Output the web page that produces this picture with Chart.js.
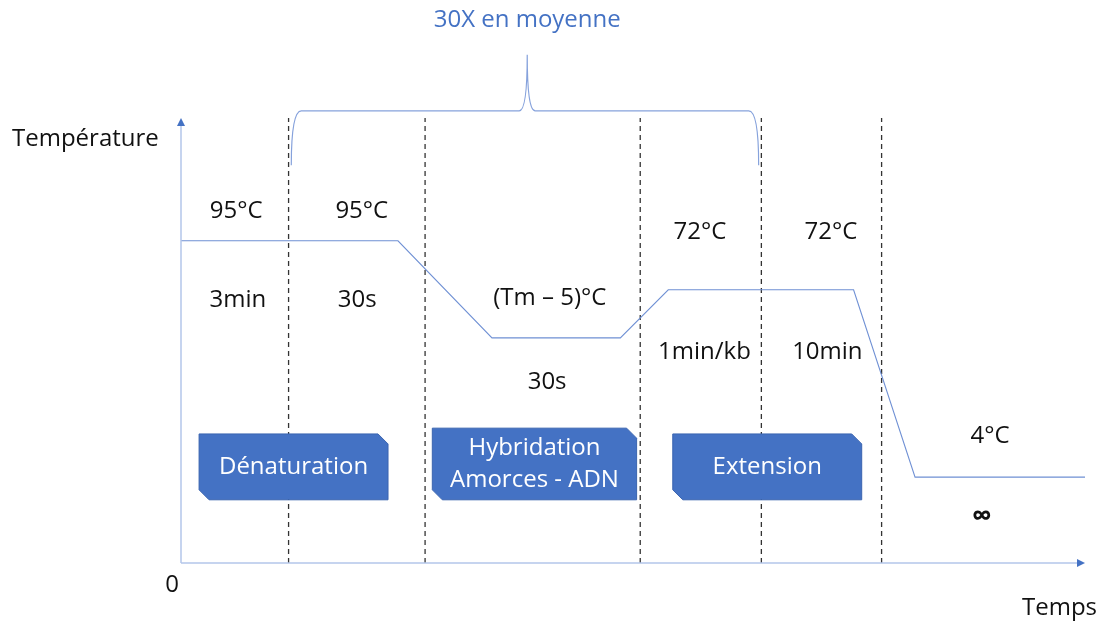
<!DOCTYPE html>
<html><head><meta charset="utf-8">
<script src="https://cdn.jsdelivr.net/npm/chart.js@4/dist/chart.umd.min.js"></script>
<style>html,body{margin:0;padding:0;background:#fff}#c{display:block}</style>
</head><body>
<canvas id="c" width="1102" height="622"></canvas>
<script>
// Temperature profile (schematic levels, 0..100 on the y axis, time 0..100 on x)
const profileTime  = [0, 24.0, 34.4, 48.6, 53.9, 74.4, 81.2, 100];
const profileLevel = [72.4, 72.4, 50.6, 50.6, 61.4, 61.4, 19.3, 19.3];
// Step boundaries (dashed lines)
const stepBounds = [11.9, 27.0, 50.8, 64.2, 77.5];
// Labels
const labelTexts = ['95°C','95°C','3min','30s','(Tm – 5)°C','30s','72°C','72°C','1min/kb','10min','4°C','∞'];
const labelX     = [6.1, 20.0, 6.3, 19.5, 40.8, 40.5, 57.4, 71.9, 57.9, 71.5, 89.5, 88.6];
const labelY     = [79.1, 79.1, 59.1, 59.1, 59.6, 40.7, 74.4, 74.4, 47.4, 47.4, 28.5, 10.3];
// Step boxes
const boxTexts = [['Dénaturation'], ['Hybridation','Amorces - ADN'], ['Extension']];
const boxX0 = [2.0, 27.8, 54.4], boxX1 = [22.9, 50.4, 75.3];
const boxY0 = [29.0, 30.3, 29.0], boxY1 = [14.2, 14.2, 14.2];
// Cycle brace
const braceX = [12.2, 38.3, 63.9];
const braceY = [89.4, 101.6, 114.2];
const braceLabel = '30X en moyenne';
const braceLabelY = 122.0;
const yAxisTitle = 'Température', xAxisTitle = 'Temps', originLabel = '0';

const FONT = '"Open Sans", Lato, sans-serif';
const BLUE = '#4472C4';

const datasets = [{
  data: profileTime.map((t,i)=>({x:t,y:profileLevel[i]})),
  borderColor:'#6f90d4', borderWidth:1.1, pointRadius:0, tension:0, order:1
}];
stepBounds.forEach(b=>datasets.push({
  data:[{x:b,y:0},{x:b,y:100.3}], borderColor:'#333', borderWidth:1.3,
  borderDash:[5,4], pointRadius:0, order:2
}));

const deco = {
  id:'deco',
  afterDatasetsDraw(chart){
    const ctx = chart.ctx, xs = chart.scales.x, ys = chart.scales.y, ca = chart.chartArea;
    const X = v=>xs.getPixelForValue(v), Y = v=>ys.getPixelForValue(v);
    ctx.save();
    // axes
    ctx.strokeStyle = '#b4c6ea'; ctx.lineWidth = 1.5;
    ctx.beginPath(); ctx.moveTo(ca.left, ca.bottom); ctx.lineTo(ca.left, ca.top+6);
    ctx.moveTo(ca.left, ca.bottom); ctx.lineTo(ca.right-6, ca.bottom); ctx.stroke();
    ctx.fillStyle = BLUE;
    ctx.beginPath(); ctx.moveTo(ca.left, ca.top); ctx.lineTo(ca.left-4, ca.top+8); ctx.lineTo(ca.left+4, ca.top+8); ctx.closePath(); ctx.fill();
    ctx.beginPath(); ctx.moveTo(ca.right, ca.bottom); ctx.lineTo(ca.right-8, ca.bottom-4); ctx.lineTo(ca.right-8, ca.bottom+4); ctx.closePath(); ctx.fill();
    // boxes
    boxTexts.forEach((lines,i)=>{
      const x0=X(boxX0[i]), x1=X(boxX1[i]), y0=Y(boxY0[i]), y1=Y(boxY1[i]), c=10;
      ctx.fillStyle = BLUE; ctx.strokeStyle = '#3a64b0'; ctx.lineWidth = 1;
      ctx.beginPath(); ctx.moveTo(x0,y0); ctx.lineTo(x1-c,y0); ctx.lineTo(x1,y0+c);
      ctx.lineTo(x1,y1); ctx.lineTo(x0+c,y1); ctx.lineTo(x0,y1-c); ctx.closePath(); ctx.fill(); ctx.stroke();
      ctx.fillStyle = '#fff'; ctx.font = '24px '+FONT; ctx.textAlign='center'; ctx.textBaseline='middle';
      const cx=(x0+x1)/2, cy=(y0+y1)/2, lh=32;
      lines.forEach((t,j)=>ctx.fillText(t, cx, cy+(j-(lines.length-1)/2)*lh));
    });
    // labels
    ctx.fillStyle = '#111'; ctx.font = '24px '+FONT; ctx.textAlign='center'; ctx.textBaseline='middle';
    labelTexts.forEach((t,i)=>{
      if (t==='∞') { ctx.save(); ctx.font='bold 28px '+FONT; ctx.fillText(t, X(labelX[i]), Y(labelY[i])); ctx.restore(); }
      else ctx.fillText(t, X(labelX[i]), Y(labelY[i]));
    });
    // axis titles
    ctx.textAlign='left'; ctx.fillText(yAxisTitle, 12, ca.top+21);
    ctx.textAlign='center'; ctx.fillText(originLabel, ca.left-9, ca.bottom+22);
    ctx.textAlign='right'; ctx.fillText(xAxisTitle, 1097, ca.bottom+45);
    // brace
    const bl=X(braceX[0]), bm=X(braceX[1]), br=X(braceX[2]);
    const yb=Y(braceY[0]), yh=Y(braceY[1]), yp=Y(braceY[2]);
    ctx.strokeStyle = '#86a2dc'; ctx.lineWidth = 1.2;
    ctx.beginPath();
    ctx.moveTo(bl, yb); ctx.quadraticCurveTo(bl, yh, bl+10, yh);
    ctx.lineTo(bm-8, yh); ctx.quadraticCurveTo(bm, yh, bm, yp);
    ctx.quadraticCurveTo(bm, yh, bm+8, yh);
    ctx.lineTo(br-10, yh); ctx.quadraticCurveTo(br, yh, br, yb);
    ctx.stroke();
    ctx.fillStyle = BLUE; ctx.font = '24px '+FONT; ctx.textAlign='center';
    ctx.fillText(braceLabel, bm, Y(braceLabelY));
    ctx.restore();
  }
};

new Chart(document.getElementById('c'), {
  type:'line',
  data:{datasets},
  options:{
    responsive:false, animation:false, parsing:false,
    layout:{padding:{left:181, right:17, top:118, bottom:59}},
    plugins:{legend:{display:false}, tooltip:{enabled:false}},
    scales:{
      x:{type:'linear', min:0, max:100, display:false},
      y:{type:'linear', min:0, max:100, display:false}
    }
  },
  plugins:[deco]
});
</script>
</body></html>
